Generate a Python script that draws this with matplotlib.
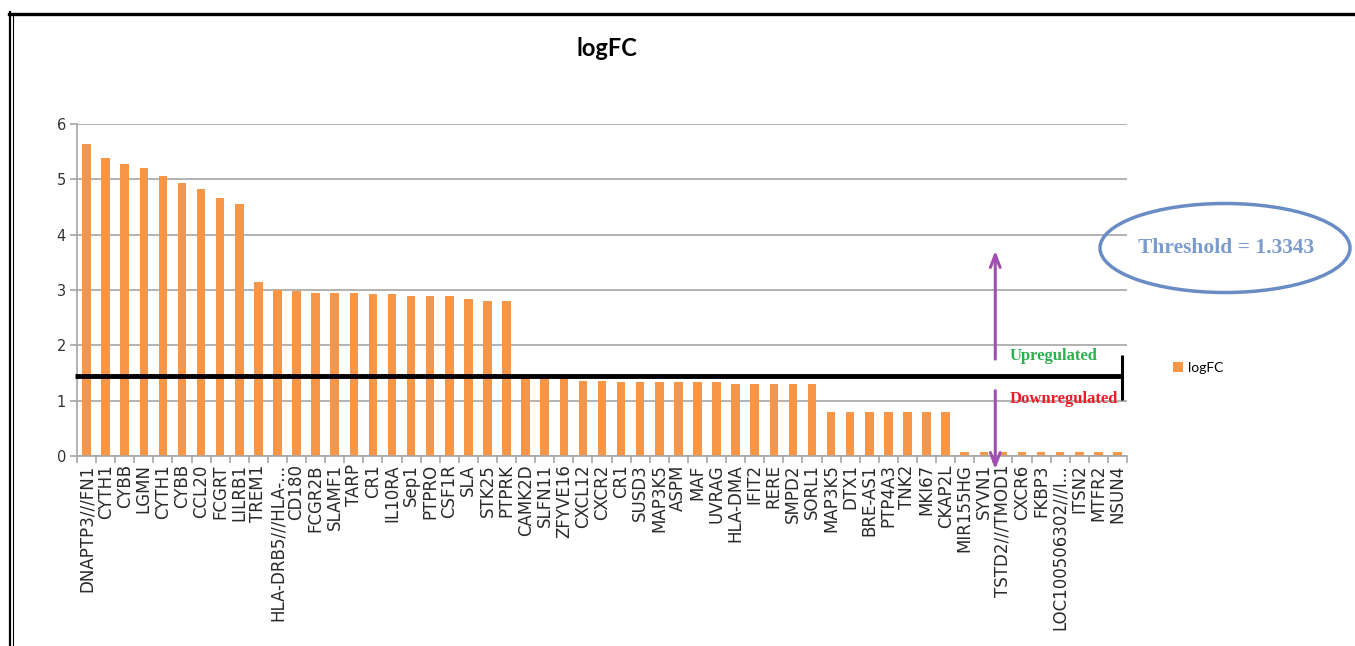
import matplotlib
matplotlib.use("Agg")
import matplotlib.pyplot as plt
from matplotlib.lines import Line2D
from matplotlib.patches import Ellipse

# ------------------------------
# data
# ------------------------------
genes = ["DNAPTP3///FN1", "CYTH1", "CYBB", "LGMN", "CYTH1", "CYBB", "CCL20", "FCGRT",
         "LILRB1", "TREM1", "HLA-DRB5///HLA-...", "CD180", "FCGR2B", "SLAMF1", "TARP",
         "CR1", "IL10RA", "Sep1", "PTPRO", "CSF1R", "SLA", "STK25", "PTPRK", "CAMK2D",
         "SLFN11", "ZFYVE16", "CXCL12", "CXCR2", "CR1", "SUSD3", "MAP3K5", "ASPM", "MAF",
         "UVRAG", "HLA-DMA", "IFIT2", "RERE", "SMPD2", "SORL1", "MAP3K5", "DTX1",
         "BRE-AS1", "PTP4A3", "TNK2", "MKI67", "CKAP2L", "MIR155HG", "SYVN1",
         "TSTD2///TMOD1", "CXCR6", "FKBP3", "LOC100506302///I...", "ITSN2", "MTFR2", "NSUN4"]
logfc = [5.63, 5.39, 5.27, 5.21, 5.06, 4.94, 4.82, 4.67, 4.55, 3.15,
         3.00, 2.98, 2.95, 2.95, 2.95, 2.92, 2.92, 2.89, 2.89, 2.89,
         2.83, 2.80, 2.80, 1.42, 1.42, 1.42, 1.36, 1.36, 1.33, 1.33,
         1.33, 1.33, 1.33, 1.33, 1.30, 1.30, 1.30, 1.30, 1.30, 0.80,
         0.80, 0.80, 0.80, 0.80, 0.80, 0.80, 0.08, 0.08, 0.08, 0.08,
         0.08, 0.08, 0.08, 0.08, 0.08]
yticks = [0, 1, 2, 3, 4, 5, 6]
threshold_label = "Threshold = 1.3343"
line_y = 1.44      # where the black threshold line sits in the picture

W, H = 1355, 646


def fx(px):
    return px / W


def fy(py):
    return 1 - py / H


fig = plt.figure(figsize=(W / 100, H / 100), dpi=100)
ax = fig.add_axes([fx(77), fy(456), fx(1127) - fx(77), fy(124) - fy(456)])

x = list(range(len(genes)))
ax.bar(x, logfc, width=0.45, color="#f79646", label="logFC", zorder=2)

ax.set_xlim(-0.5, len(genes) - 0.5)
ax.set_ylim(0, 6)
ax.set_yticks(yticks)
ax.yaxis.grid(True, color="#a6a6a6", lw=1.2, zorder=0)
ax.set_axisbelow(True)
for s in ["top", "right"]:
    ax.spines[s].set_visible(False)
for s in ["left", "bottom"]:
    ax.spines[s].set_color("#a6a6a6")
    ax.spines[s].set_linewidth(1.2)

ax.set_xticks(x)
ax.set_xticklabels(genes, rotation=90, fontsize=12, family="DejaVu Sans", color="#2a2a2a")
ax.set_xticks([i - 0.5 for i in range(len(genes) + 1)], minor=True)
ax.tick_params(axis="x", which="major", length=0, pad=6)
ax.tick_params(axis="x", which="minor", length=5, color="#a6a6a6", width=1.2)
ax.tick_params(axis="y", length=5, color="#a6a6a6", width=1.2, labelsize=10.5,
               labelcolor="#333333", pad=3)

fig.text(fx(607), fy(48), "logFC", ha="center", va="center", fontsize=17,
         family="Lato", fontweight="bold")

# threshold line with end cap
ax.hlines(line_y, -0.6, 54.25, color="black", lw=3.5, clip_on=False, zorder=4)
ax.vlines(54.25, 1.01, 1.83, color="black", lw=2.2, clip_on=False, zorder=4)

# up / down arrows
arrow_c = "#a04fb0"
ax.annotate("", xy=(47.6, 3.76), xytext=(47.6, 1.70),
            arrowprops=dict(arrowstyle="->,head_width=0.35,head_length=0.9", color=arrow_c, lw=2.2),
            annotation_clip=False, zorder=5)
ax.annotate("", xy=(47.6, -0.29), xytext=(47.6, 1.23),
            arrowprops=dict(arrowstyle="->,head_width=0.35,head_length=0.9", color=arrow_c, lw=2.2),
            annotation_clip=False, zorder=5)

fig.text(fx(1010), fy(356), "Upregulated", ha="left", va="center", fontsize=12,
         family=["DejaVu Serif Condensed", "Liberation Serif"], fontweight="bold", color="#2bb14c")
fig.text(fx(1010), fy(399), "Downregulated", ha="left", va="center", fontsize=12,
         family=["DejaVu Serif Condensed", "Liberation Serif"], fontweight="bold", color="#ee1c25")

# threshold callout
fig.add_artist(Ellipse((fx(1225), fy(248)), fx(250), 89 / H, transform=fig.transFigure,
                       facecolor="none", edgecolor="#6a8cc4", lw=2.5))
fig.text(fx(1226), fy(248), threshold_label, ha="center", va="center", fontsize=15.5,
         family=["DejaVu Serif Condensed", "Liberation Serif"], fontweight="bold", color="#7b9bcb")

fig.legend(loc="center left", bbox_to_anchor=(fx(1166), fy(368)), frameon=False,
           handlelength=0.7, handleheight=0.7, handletextpad=0.4, borderpad=0,
           prop=dict(family="Lato", size=10))

# page frame
fig.add_artist(Line2D([fx(9), fx(1355)], [fy(13.5), fy(13.5)], color="black", lw=2.4))
fig.add_artist(Line2D([fx(9.5), fx(9.5)], [fy(12), 0], color="black", lw=1.6))
fig.add_artist(Line2D([fx(12.5), fx(12.5)], [fy(13), 0], color="black", lw=0.8))

fig.savefig("out.png", dpi=100)
